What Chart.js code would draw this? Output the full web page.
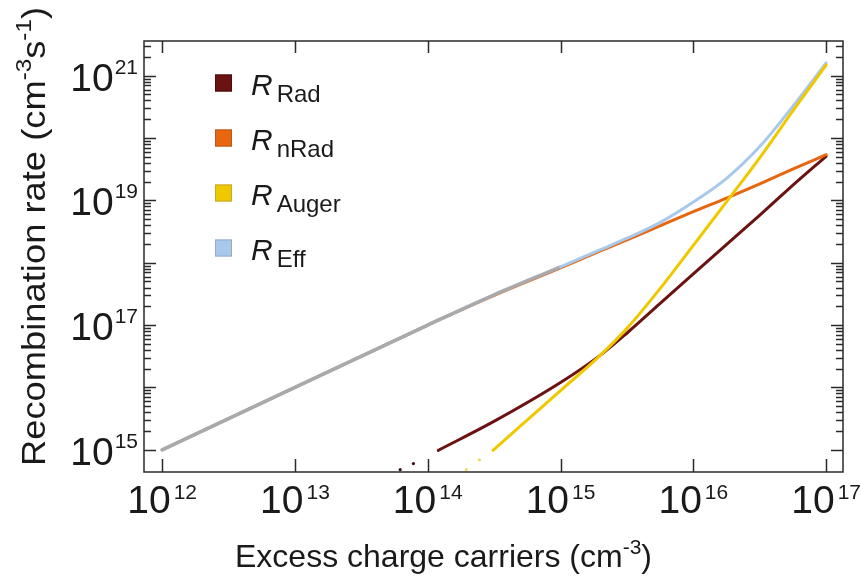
<!DOCTYPE html>
<html>
<head>
<meta charset="utf-8">
<script src="https://cdn.jsdelivr.net/npm/chart.js@4.4.1/dist/chart.umd.min.js"></script>
<style>
  html, body { margin: 0; padding: 0; background: #fff; }
  #wrap { width: 861px; height: 578px; position: relative; }
</style>
</head>
<body>
<div id="wrap"><canvas id="chart" width="861" height="578"></canvas></div>
<script>
// excess charge carriers (cm^-3)
const carriers = [1e12, 1e13, 1e14, 1.2e14, 3.1e14, 1e15, 2e15, 3.2e15, 5.6e15, 1e16, 1.8e16, 3.2e16, 5.6e16, 1e17];
// recombination rates (cm^-3 s^-1); null = not drawn
const rRad   = [null, null, null, 9.8e14, 2.8e15, 1.2e16, 3.3e16, 7.6e16, 2.2e17, 6.6e17, 2.0e18, 5.9e18, 1.74e19, 5.1e19];
const rNRad  = [1e15, 1e16, 1e17, 1.2e17, 2.95e17, 8.3e17, 1.55e18, 2.34e18, 3.9e18, 6.6e18, 1.1e19, 1.86e19, 3.16e19, 5.4e19];
const rAuger = [null, null, null, null, 9.8e14, 8.9e15, 3.3e16, 9.1e16, 3.8e17, 1.9e18, 9.8e18, 5.0e19, 2.7e20, 1.48e21];
const rEff   = [1e15, 1e16, 1e17, 1.2e17, 3.0e17, 8.6e17, 1.62e18, 2.5e18, 4.4e18, 9.4e18, 2.3e19, 7.5e19, 3.2e20, 1.6e21];
// short dotted stubs just above the x axis
const radStubX   = [6.2e13, 7.8e13];
const radStubY   = [4.8e14, 6.0e14];
const augerStubX = [1.95e14, 2.45e14];
const augerStubY = [4.8e14, 6.9e14];

const seriesSubs   = ['Rad', 'nRad', 'Auger', 'Eff'];
const seriesColors = ['#6b1212', '#e8660f', '#f0c800', '#a9c9ec'];
const boxBorders   = ['#4a0c0c', '#b85a20', '#c8a830', '#9aaabb'];

const xTickExp  = [12, 13, 14, 15, 16, 17];
const yTickExp  = [15, 16, 17, 18, 19, 20, 21];
const yLabelExp = [15, 17, 19, 21];

const FONT = "'Liberation Sans', Arial, sans-serif";

function pts(xv, yv) {
  const out = [];
  yv.forEach((v, i) => { if (v !== null) out.push({ x: xv[i], y: v }); });
  return out;
}

// draw a row of text pieces (for superscripts / subscripts)
function drawRuns(ctx, runs, x, y, align, fitWidth) {
  let total = 0;
  runs.forEach(r => {
    ctx.font = r.font;
    r.w = ctx.measureText(r.text).width;
    total += r.w + (r.gap || 0);
  });
  ctx.save();
  ctx.translate(x, y);
  if (fitWidth) { ctx.scale(fitWidth / total, 1); }
  let cx = align === 'center' ? -total / 2 : align === 'right' ? -total : 0;
  ctx.textAlign = 'left';
  ctx.textBaseline = 'alphabetic';
  runs.forEach(r => {
    cx += r.gap || 0;
    ctx.font = r.font;
    ctx.fillText(r.text, cx, r.dy || 0);
    cx += r.w;
  });
  ctx.restore();
}

const framePlugin = {
  id: 'frame',
  afterDatasetsDraw(chart) {
    const ctx = chart.ctx;
    const { left, right, top, bottom } = chart.chartArea;
    const xs = chart.scales.x, ys = chart.scales.y;
    ctx.save();
    ctx.strokeStyle = '#2a2a2a';
    ctx.fillStyle = '#1a1a1a';
    ctx.lineWidth = 1.5;
    ctx.strokeRect(left, top, right - left, bottom - top);

    // x ticks, bottom and top, pointing in
    ctx.beginPath();
    xTickExp.forEach(e => {
      const px = Math.round(xs.getPixelForValue(Math.pow(10, e))) + 0.5;
      ctx.moveTo(px, bottom); ctx.lineTo(px, bottom - 13);
      ctx.moveTo(px, top); ctx.lineTo(px, top + 12);
    });
    // y ticks, left and right, majors and minors
    yTickExp.forEach(e => {
      for (let m = 1; m <= 9; m++) {
        const v = m * Math.pow(10, e);
        if (v < ys.min || v > ys.max) continue;
        const py = Math.round(ys.getPixelForValue(v)) + 0.5;
        const len = m === 1 ? 12 : 7;
        ctx.moveTo(left, py); ctx.lineTo(left + len, py);
        ctx.moveTo(right, py); ctx.lineTo(right - len, py);
      }
    });
    ctx.stroke();

    // tick labels
    const big = '39px ' + FONT, sup = '21px ' + FONT;
    xTickExp.forEach(e => {
      const px = xs.getPixelForValue(Math.pow(10, e));
      drawRuns(ctx, [
        { text: '10', font: big },
        { text: String(e), font: sup, dy: -14, gap: 3 }
      ], px, 513, 'center');
    });
    yLabelExp.forEach(e => {
      const py = ys.getPixelForValue(Math.pow(10, e));
      drawRuns(ctx, [
        { text: '10', font: big },
        { text: String(e), font: sup, dy: -17, gap: 1 }
      ], 138, py + 15, 'right');
    });

    // axis titles
    const tf = '32px ' + FONT, ts = '21px ' + FONT;
    drawRuns(ctx, [
      { text: 'Excess charge carriers (cm', font: tf },
      { text: '-3', font: ts, dy: -13 },
      { text: ')', font: tf }
    ], 235, 567, 'left');
    ctx.save();
    ctx.translate(45, 466);
    ctx.rotate(-Math.PI / 2);
    drawRuns(ctx, [
      { text: 'Recombination rate (cm', font: '33px ' + FONT },
      { text: '-3', font: '22px ' + FONT, dy: -14 },
      { text: 's', font: '33px ' + FONT },
      { text: '-1', font: '22px ' + FONT, dy: -14 },
      { text: ')', font: '33px ' + FONT }
    ], 0, 0, 'left', 459);
    ctx.restore();

    // legend
    seriesSubs.forEach((sub, i) => {
      const cy = 83 + i * 55;
      ctx.fillStyle = seriesColors[i];
      ctx.fillRect(215, cy - 8.5, 17, 17);
      ctx.strokeStyle = boxBorders[i];
      ctx.lineWidth = 1;
      ctx.strokeRect(215.5, cy - 8, 16, 16);
      ctx.fillStyle = '#1a1a1a';
      drawRuns(ctx, [
        { text: 'R', font: 'italic 30px ' + FONT },
        { text: sub, font: '24px ' + FONT, dy: 7, gap: 4 }
      ], 251, cy + 12, 'left');
    });
    ctx.restore();
  }
};

const GRAY = '#a8aab0';
const line = {
  showLine: true, pointRadius: 0, pointHoverRadius: 0, fill: false,
  cubicInterpolationMode: 'monotone', borderCapStyle: 'round', borderWidth: 3
};
const dots = { showLine: false, pointRadius: 1.6, pointBorderWidth: 0, pointHoverRadius: 0 };

new Chart(document.getElementById('chart'), {
  type: 'scatter',
  data: {
    datasets: [
      Object.assign({ label: 'R_Rad', data: pts(carriers, rRad), borderColor: seriesColors[0], order: 3 }, line),
      Object.assign({ label: 'R_nRad', data: pts(carriers, rNRad), borderColor: seriesColors[1], order: 2 }, line),
      Object.assign({ label: 'R_Auger', data: pts(carriers, rAuger), borderColor: seriesColors[2], order: 0 }, line),
      Object.assign({ label: 'R_Eff', data: pts(carriers, rEff), borderColor: seriesColors[3], order: 1,
        segment: {
          borderColor: c => c.p1.parsed.x <= 1.1e15 ? GRAY : seriesColors[3],
          borderWidth: c => c.p1.parsed.x <= 1.1e15 ? 3.6 : 3
        } }, line),
      Object.assign({ label: 'rad stub', data: pts(radStubX, radStubY), backgroundColor: '#3a1010', order: 4 }, dots),
      Object.assign({ label: 'auger stub', data: pts(augerStubX, augerStubY), backgroundColor: '#e8e060', order: 4 }, dots)
    ]
  },
  options: {
    responsive: false,
    animation: false,
    maintainAspectRatio: false,
    devicePixelRatio: 1,
    layout: { padding: { left: 144, right: 18, top: 41, bottom: 106 } },
    plugins: { legend: { display: false }, tooltip: { enabled: false } },
    scales: {
      x: { type: 'logarithmic', min: 7.3e11, max: 1.34e17, display: false },
      y: { type: 'logarithmic', min: 4.4e14, max: 3.6e21, display: false }
    }
  },
  plugins: [framePlugin]
});
</script>
</body>
</html>
